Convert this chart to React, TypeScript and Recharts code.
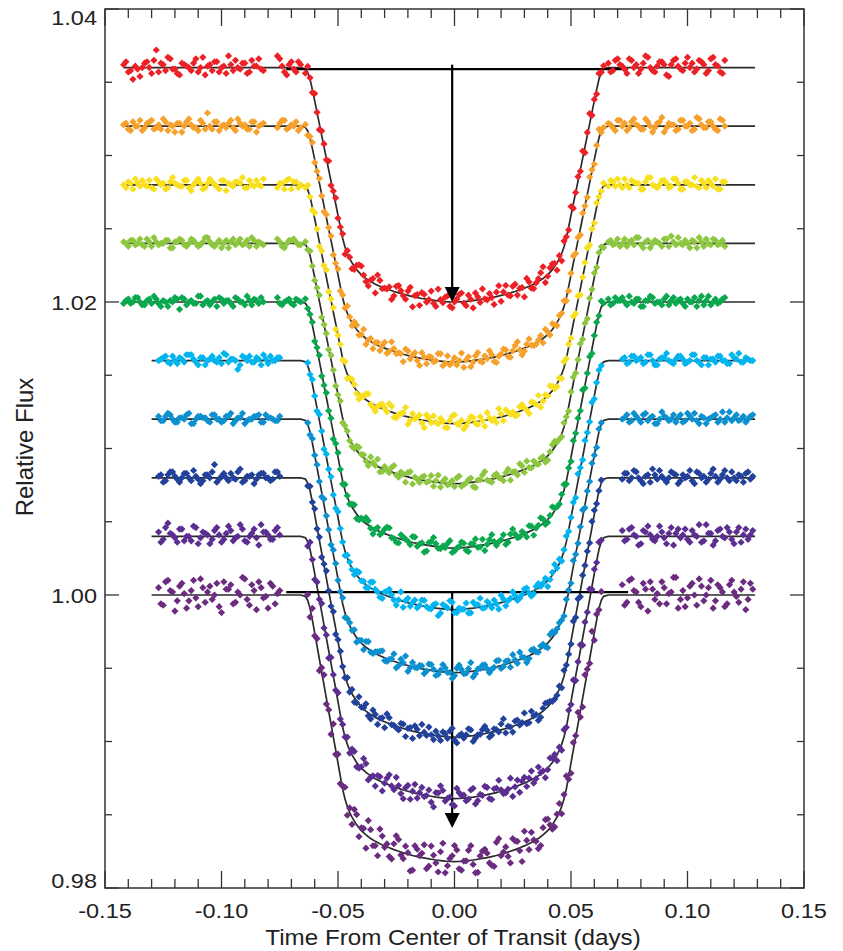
import React from 'react';
import { ComposedChart, Scatter, Line, XAxis, YAxis, ReferenceLine, ReferenceArea } from 'recharts';

// times in units of 0.001 day
const TOP_LEFT_T = [-142, -140, -138, -136, -134, -132, -130, -128, -126, -124, -122, -120, -118, -116, -114, -112, -110, -108, -106, -104, -102, -100, -98, -96, -94, -92, -90, -88, -86, -84, -82, -76, -74, -72, -70, -68, -66];
const BOTTOM_LEFT_T = [-127, -125, -123, -121, -119, -117, -115, -113, -111, -109, -107, -105, -103, -101, -99, -97, -95, -93, -91, -89, -87, -85, -83, -81, -79, -77, -75];
const TRANSIT_T = [-64, -63, -62, -61, -60, -59, -58, -57, -56, -55, -54, -53, -52, -51, -50, -49, -48, -47, -46, -45,
  -44, -42, -40, -38, -36, -34, -32, -30, -28, -26, -24, -22, -20, -18, -16, -14, -12, -10, -8, -6, -4, -2, 0,
  2, 4, 6, 8, 10, 12, 14, 16, 18, 20, 22, 24, 26, 28, 30, 32, 34, 36, 38, 40, 42, 44,
  45, 46, 47, 48, 49, 50, 51, 52, 53, 54, 55, 56, 57, 58, 59, 60, 61, 62, 63, 64];
const TOP_RIGHT_T = [66, 68, 70, 72, 74, 76, 78, 80, 82, 84, 86, 88, 90, 92, 94, 96, 98, 100, 102, 104, 106, 108, 110, 112, 114, 116];
const BOTTOM_RIGHT_T = [72, 74, 76, 78, 80, 82, 84, 86, 88, 90, 92, 94, 96, 98, 100, 102, 104, 106, 108, 110, 112, 114, 116, 118, 120, 122, 124, 126, 128];

// second set of exposures, between the first ones
const TOP_LEFT_T2 = [-141, -139, -137, -135, -133, -131, -129, -127, -125, -123, -121, -119, -117, -115, -113, -111, -109, -107, -105, -103, -101, -99, -97, -95, -93, -91, -89, -87, -85, -83, -75, -73, -71, -69, -67];
const BOTTOM_LEFT_T2 = [-126, -124, -122, -120, -118, -116, -114, -112, -110, -108, -106, -104, -102, -100, -98, -96, -94, -92, -90, -88, -86, -84, -82, -80, -78, -76];
const CENTER_T2 = [-43, -41, -39, -37, -35, -33, -31, -29, -27, -25, -23, -21, -19, -17, -15, -13, -11, -9, -7, -5, -3, -1,
  1, 3, 5, 7, 9, 11, 13, 15, 17, 19, 21, 23, 25, 27, 29, 31, 33, 35, 37, 39, 41, 43];
const TOP_RIGHT_T2 = [67, 69, 71, 73, 75, 77, 79, 81, 83, 85, 87, 89, 91, 93, 95, 97, 99, 101, 103, 105, 107, 109, 111, 113, 115];
const BOTTOM_RIGHT_T2 = [73, 75, 77, 79, 81, 83, 85, 87, 89, 91, 93, 95, 97, 99, 101, 103, 105, 107, 109, 111, 113, 115, 117, 119, 121, 123, 125, 127];

// shape of the fitted transit (fraction of full depth) against |time|, 0..64 then 66
const PROFILE_F = [1.0, 0.9999, 0.9995, 0.999, 0.998, 0.997, 0.996, 0.995, 0.994, 0.9925, 0.991, 0.9895, 0.988, 0.9865, 0.985, 0.983, 0.981, 0.979, 0.977, 0.9745,
  0.972, 0.9695, 0.967, 0.964, 0.961, 0.958, 0.955, 0.9515, 0.948, 0.9445, 0.941, 0.937, 0.933, 0.9285, 0.924, 0.9185, 0.913, 0.9065, 0.9, 0.892,
  0.884, 0.873, 0.862, 0.848, 0.833, 0.815, 0.793, 0.765, 0.728, 0.68, 0.63, 0.581, 0.533, 0.484, 0.436, 0.387, 0.338, 0.289, 0.24, 0.191,
  0.142, 0.094, 0.05, 0.02, 0.005, 0];

const COLORS = ['#ec2127', '#f5a12b', '#f8e01f', '#8dc63f', '#0aa84f', '#00b5ef', '#0c90d0', '#22419a', '#5c2e91', '#6b2c80'];
const BASELINES = [1.036, 1.032, 1.028, 1.024, 1.02, 1.016, 1.012, 1.008, 1.004, 1.0];
const DEPTHS = [0.016, 0.0161, 0.0163, 0.0164, 0.0168, 0.017, 0.0173, 0.0177, 0.0179, 0.0182];
const MODEL_START = [-142, -142, -142, -142, -142, -130, -130, -130, -130, -130];
const MODEL_END = 129;

// scatter about the fit, units of 1e-4
const RED_RES = [2, -3, -8, -1, 0, 4, -4, 12, 3, -2, 6, -1, -5, 2, 0, 3, -3, 7, 1, -2, 4, 0, -4, 2, 5, -1, 3, -3, 1, 6, -2, 8, 1, -5, 4, -3, 2,
  -3, 4, 1, -2, 5, 0, -4, 3, 2, -1, 6, -3, 1, 4, -2, 0, 3, -5, 2, 1,
  -4, 3, 6, -2, 1, -6, 4, 0, 2, -3, 5, -1, 3, -7, 2, 4, -2, 6, -4, 1, 3, -3, 0, 5, -1, 4, -5, 2, 7, -1, 0, 3, -4, 6, -2, 5, 1, -6, 3, -3, 2, 8, -1, 4, -5,
  2, -5, 4, 1, -2, 6, -3, 0, 3, -1, 5, -4, 2, 7, -2, 1, -3, 4, 0, 2,
  3, -2, 6, 1, -4, 5, 2, -1, 8, 0, -3, 4, 2, -6, 5, 1, -2, 7, 3, -1, 4, -4, 6, 2, -3, 5];
const ORANGE_RES = [1, -2, 3, 0, -3, 2, 4, -1, -2, 3, 1, -4, 2, 0, 5, -1, -3, 2, 9, -2, 3, 0, -1, 4, -3, 2, 1, -2, 3, 0, 2, -1, 4, -2, 1, 3, -1,
  2, -3, 1, 4, -2, 0, 3, -1, -4, 2, 1, 3, -2, 0, 4, -3, 2, -1, 5, 1,
  -2, 3, 0, -4, 2, 1, -3, 4, -1, 2, 0, -5, 3, 1, -2, 4, -3, 2, 0, 5, -1, -2, 3, 1, -4, 3, -1, 5, -2, 0, 2, -4, 1, 3, -3, 4, 0, -2, 5, -1, 1, -3, 2, 4, -2,
  2, 0, 4, -2, -3, 1, 5, -1, 2, -4, 3, 0, -2, 4, 1, -3, 2, 6, -1, 0,
  2, -1, 4, 0, -3, 3, 1, -2, 5, 0, -1, 3, -4, 2, 1, -2, 4, 0, -3, 6, 1, -1, 3, -2, 5, 0];
const YELLOW_RES = [0, 2, -3, 1, 3, -1, -2, 4, 0, -3, 2, 1, -1, 3, -2, 0, 4, -3, 1, 2, -1, 3, -4, 0, 2, 1, -2, 3, -1, 0, 4, -2, 1, 3, -3, 2, 0,
  -1, 3, 0, -2, 4, 1, -3, 2, 0, 5, -2, 1, 3, -4, 0, 2, -1, 4, -3, 1,
  3, -2, 0, 4, -1, -4, 2, 1, 5, -3, 0, 2, -5, 3, 1, -2, 4, -1, 0, 3, -3, 2, 6, -1, -4, 1, 3, -2, 0, 5, -1, -3, 2, 4, 0, -2, 3, 1, -4, 2, 5, -1, 0, 3, -2,
  1, -3, 4, 0, 2, -2, 5, -1, 3, -4, 0, 2, 4, -2, 1, -3, 3, 0, -1, 2,
  -1, 2, 4, -2, 0, 3, 1, -3, 2, 5, -1, 0, 3, -2, 4, 1, -3, 2, 0, -1, 3, -2, 1, 4, -3, 2];
const LGREEN_RES = [1, -2, 2, 0, -1, 3, -2, 1, 0, 2, -3, 1, 3, -1, 0, 2, -2, 1, 4, -1, 0, -3, 2, 1, -1, 3, 0, -2, 2, 1, -1, 3, -2, 0, 2, 1, -1,
  2, -1, 3, 0, -2, 1, 4, -3, 0, 2, -1, 3, 1, -2, 0, 4, -3, 1, 2, -1,
  -2, 3, 1, -1, 4, 0, -3, 2, -1, 5, -2, 1, 3, -4, 0, 2, -1, 4, 1, -3, 3, 0, -2, 5, -1, 2, -3, 1, 4, 0, -2, 3, -1, 2, -4, 1, 5, -2, 0, 3, -1, 2, -3, 4, 1,
  0, -2, 3, 1, -3, 2, 4, -1, 0, 3, -2, 1, -4, 2, 0, 3, -1, 2, 1, -2,
  1, -1, 3, 0, -2, 2, 4, -1, 1, -3, 2, 0, 3, -2, 1, 4, -1, 0, 2, -3, 1, 3, -1, 2, 0, -2];
const GREEN_RES = [-1, 2, 0, 3, -2, 1, -1, 2, -3, 0, 1, 3, -5, 2, 0, -1, 4, -2, 1, 0, -3, 2, 1, -1, 3, 0, -2, 1, 2, -1, 0, 3, -2, 1, -1, 2, 0,
  3, -1, 0, 2, -3, 1, 4, -2, 0, 3, -1, 2, -4, 1, 3, 0, -2, 4, 1, -1,
  2, -3, 1, 4, -1, 0, -2, 3, 5, -1, -3, 2, 0, 4, -2, 1, -4, 3, 2, -1, 0, 5, -2, 1, 3, -3, 2, -1, 4, 0, 6, -2, 1, -3, 3, 2, -1, 0, 4, -4, 1, 3, -2, 5, 0,
  -1, 2, 4, -2, 1, -3, 3, 0, 2, -1, 5, -2, 0, 3, -3, 1, 2, -1, 4, 0,
  2, -1, 1, 3, -2, 0, 2, -3, 1, 4, -1, 0, 2, -2, 3, 1, -1, 2, 0, -3, 4, 1, -2, 2, 0, 3];
const CYAN_RES = [0, 2, -1, 3, -2, 1, 4, 4, -1, 2, -3, 1, 0, 2, 5, -1, 1, -6, 3, 0, -1, 2, -3, 1, 3, 0, 2,
  2, -1, 3, 0, -2, 4, 1, -3, 2, 0, 3, -1, -2, 4, 1, 0, -3, 2, 1,
  -1, 3, 0, -2, 4, 1, -3, 2, 5, -1, 0, -4, 3, 1, -2, 4, 0, -1, 3, -3, 2, 6, -2, 1, 0, -3, 4, 2, -1, 3, -2, 0, 5, -3, 1, 2, -1, 4, 0, -2, 3, 1, -4, 2, 0,
  3, -2, 1, 4, -1, 0, 2, -3, 5, 1, -2, 3, 0, -1, 4, -2, 1, 2, 0,
  1, -2, 3, 0, 2, -1, 4, -3, 1, 2, 0, -2, 3, 1, -1, 4, 0, -3, 2, 1, -1, 3, 0, -2, 2, 5, -1, 1, 0];
const BLUE_RES = [2, -1, 4, 0, -2, 1, 3, -3, 0, 2, 1, -2, 3, 0, -1, 2, -3, 1, 4, -1, 0, 2, -2, 3, 1, -1, 2,
  1, -2, 3, 0, 2, -1, -3, 4, 1, 0, -2, 3, 2, -1, 0, 4, -3, 1, 2,
  0, -3, 2, 4, -1, 1, 3, -2, 0, 5, -2, 1, -4, 3, 0, 2, -1, 4, -3, 1, 3, 0, -2, 5, -1, 2, -4, 1, 3, 0, -1, 4, -2, 2, -3, 1, 5, 0, -2, 3, -1, 2, -3, 4, 1,
  2, 0, -2, 3, 1, -3, 4, 0, -1, 2, 5, -2, 1, -1, 3, 0, -3, 2, 1,
  0, 3, -1, 2, -2, 4, 1, -3, 0, 2, -1, 3, 1, -2, 4, 0, -1, 2, -3, 1, 3, 0, -2, 5, 1, -1, 2, 0, 3];
const DBLUE_RES = [1, -3, 2, 4, -1, 0, 3, -2, 1, -4, 2, 0, 9, -1, 3, -2, 0, 4, -3, 1, 2, -1, 3, 0, -2, 4, 1,
  -2, 3, 0, 4, -1, 2, -3, 1, 5, 0, -2, 3, -4, 1, 2, 0, -1, 4, -2,
  3, -1, 0, 5, -3, 2, 1, -4, 4, 0, -2, 3, 1, -5, 2, 6, -1, 0, 3, -3, 2, 4, -2, 1, -1, 5, -4, 0, 3, 2, -2, 1, 4, -3, 0, 3, -1, 6, -2, 1, -4, 2, 3, 0, -1,
  2, -3, 4, 1, 0, -2, 5, -1, 3, -4, 2, 0, 1, -2, 4, 3, -1, 0, 2,
  -1, 3, 0, 4, -2, 1, -3, 2, 5, -1, 0, 3, -4, 2, 1, -2, 4, 0, -3, 3, 1, -1, 5, -2, 0, 2, -3, 4, 1];
const PURPLE_RES = [3, -2, 9, 1, -4, 5, 0, -3, 6, -1, 2, -5, 4, 1, -2, 7, -3, 0, 5, -4, 2, -1, 8, 3, -2, 4, 1,
  -3, 5, 1, -4, 3, 0, 6, -2, 2, -5, 4, 1, -1, 6, -3, 2, 0, 5, -2,
  4, -3, 1, 6, -1, -5, 3, 0, 7, -2, 2, -6, 4, 1, -3, 5, 0, -4, 3, 8, -2, 1, -5, 4, 2, -1, 6, -3, 0, 5, -4, 3, 1, -2, 7, 0, -5, 4, 2, -3, 6, 1, -1, 3, -4,
  2, -4, 5, 0, 3, -2, 6, -3, 1, 4, -5, 2, 0, 7, -2, 3, -1, 5, 1,
  4, -2, 6, 0, -5, 3, 1, -3, 7, -1, 2, -6, 5, 1, -2, 4, 0, -4, 8, 2, -3, 5, -1, 3, -5, 6, 1, -2, 4];
const DPURPLE_RES = [5, -7, 10, 2, -4, 8, -9, 3, -2, 11, -5, 6, 0, -8, 9, 4, -6, 2, 12, -3, 7, -10, 5, -1, 8, -6, 3,
  4, -6, 8, -2, 5, -8, 3, 7, -4, 1, -7, 9, -3, 6, -5, 2, 8, -6, 3,
  -5, 7, 2, -9, 6, -3, 10, -1, -6, 4, 8, -4, 1, -10, 5, 3, -7, 9, -2, 6, -8, 2, 11, -5, 0, 7, -3, -9, 5, 3, -6, 9, -1, 4, -8, 6, -2, 10, -4, 1, -7, 5, 8, -3, 2,
  6, -5, 3, 9, -2, -7, 5, 1, 8, -4, -6, 7, 2, -3, 10, -5, 4, -1, 6,
  7, -5, 11, 2, -8, 4, 9, -3, -6, 5, 1, 12, -9, 3, -2, 8, -7, 6, 0, 10, -4, 5, -8, 7, 2, -5, 9, -3, 4];

const RED_RES2 = [4, -2, 1, -6, 3, 0, 5, -3, 2, 7, -1, -4, 3, 1, -2, 6, 0, -5, 2, 4, -3, 1, 8, -2, 0, 3, -4, 5, 1, -1, 6, -3, 2, -1, 4,
  -2, 5, 1, -4, 3, 7, -1, 0, -6, 4, 2, -3, 6, 1, -5, 3, 0, -2, 8, -1, 4, -4, 2, 6, -3, 1, 5, -2, 0, 3, -5, 7, 2, -1, 4, -3, 1, 6, -2, 0, 5, -4, 3, 2,
  -3, 5, 2, -1, 6, 0, -4, 3, 7, -2, 1, 4, -5, 2, 6, -1, 3, 0, -3, 5, 2, -2, 7, 1, -4];
const ORANGE_RES2 = [2, -3, 0, 4, -1, 3, -2, 1, 5, -3, 0, 2, -4, 3, 1, -1, 4, -2, 0, 3, -3, 1, 2, -1, 5, 0, -2, 3, -4, 1, 2, 4, -1, 0, -3,
  3, -2, 5, 0, -4, 2, 1, -3, 6, -1, 0, 4, -2, 3, -5, 1, 2, -1, 5, -3, 4, 0, -2, 6, 1, -4, 3, -1, 2, 5, -3, 0, 4, -2, 1, 6, -4, 2, 0, -1, 3, 5, -2, 1,
  1, -3, 4, 2, -1, 5, 0, -2, 3, -4, 2, 6, -1, 1, -3, 4, 0, 2, -2, 5, -1, 3, 0, -3, 4];
const YELLOW_RES2 = [-2, 1, 4, -1, 0, 3, -3, 2, 1, -2, 5, 0, -1, 3, -4, 2, 1, -2, 4, 0, -3, 3, 1, -1, 2, 5, -2, 0, 3, -1, 1, -3, 4, 2, -2,
  2, -4, 1, 5, -2, 0, 3, -1, 4, -3, 1, 6, -2, 0, 3, -5, 2, 4, -1, 1, -3, 5, 0, 2, -2, 4, -1, 3, -4, 1, 0, 6, -3, 2, 1, -2, 4, -1, 3, 0, -4, 2, 5, -1,
  3, -1, 0, 4, -2, 2, 1, -3, 5, 0, -2, 3, 1, -1, 4, -3, 2, 0, 5, -2, 1, 3, -1, -3, 2];
const LGREEN_RES2 = [0, 2, -1, 3, -2, 1, 4, -1, 0, 2, -3, 1, 2, -2, 3, 0, -1, 4, 1, -2, 2, 0, -3, 3, 1, -1, 2, 4, -2, 0, 1, -3, 2, 3, -1,
  -1, 4, 2, -3, 1, 5, -2, 0, 3, -1, 2, -4, 4, 1, -2, 3, 0, -3, 5, 1, -1, 2, 4, -2, 0, 3, -4, 1, 6, -1, 2, 0, -3, 4, 1, -2, 3, 5, -1, 0, 2, -3, 1, 4,
  2, 0, -2, 3, 1, -1, 4, -3, 2, 0, 1, -2, 3, 5, -1, 0, 2, -3, 1, 4, -2, 0, 3, -1, 2];
const GREEN_RES2 = [1, -1, 3, 0, -2, 2, 4, -1, 1, -3, 0, 2, 3, -2, 1, -1, 4, 0, -2, 2, 3, -1, 1, -3, 2, 0, 4, -2, 1, 3, -1, 0, 2, -2, 1,
  4, -2, 1, 3, -4, 2, 0, 5, -1, -3, 3, 1, -2, 4, 0, -5, 2, 6, -1, 1, 3, -3, 0, 4, -2, 2, 5, -1, -4, 3, 1, 0, 4, -2, 6, -1, 2, -3, 3, 0, 5, -2, 1, 2,
  -2, 3, 1, 0, 4, -1, 2, -3, 1, 3, 0, -2, 4, 1, -1, 2, -3, 0, 3, 1, -2, 4, 0, -1, 2];
const CYAN_RES2 = [1, 3, -2, 0, 2, -1, 4, 1, -3, 2, 0, 3, -1, -2, 4, 1, 0, -3, 2, 3, -1, 1, 4, -2, 0, 2,
  -2, 4, 1, -1, 5, 0, -3, 3, 2, -4, 6, 1, -2, 3, 0, 4, -1, 2, -5, 3, 1, 5, -2, 0, 4, -3, 2, 6, -1, 1, 3, -4, 2, 0, 5, -2, 1, 4, -3, 2, 0, 3, -1, 5,
  2, -1, 3, 1, -2, 4, 0, -3, 2, 5, -1, 1, 3, -2, 0, 4, -1, 2, -3, 1, 3, 0, -2, 4, 1, -1, 2, 0];
const BLUE_RES2 = [-1, 2, 3, -2, 1, 0, 4, -3, 2, 1, -1, 3, 0, -2, 2, 4, -1, 1, -3, 0, 2, 3, -2, 1, 0, -1,
  3, 0, -3, 5, -1, 2, 4, -2, 1, -4, 3, 6, -1, 0, 2, -3, 4, 1, -2, 5, 0, -4, 3, 2, -1, 6, -2, 1, 3, -3, 0, 4, -1, 2, 5, -2, 1, -4, 3, 0, 2, -1, 4, 1,
  1, -2, 4, 0, 3, -1, 2, -3, 5, 1, 0, -2, 3, -1, 2, 4, -3, 1, 0, 2, -2, 5, 1, -1, 3, 0, -2, 2];
const DBLUE_RES2 = [2, -2, 4, 1, -3, 3, 0, 5, -1, -2, 2, 4, -3, 1, 0, 3, -1, 6, -2, 1, -4, 2, 3, 0, -1, 4,
  -3, 5, 1, -2, 4, -4, 2, 6, 0, -1, 3, -5, 2, 4, -2, 1, 5, -3, 0, 3, -1, 6, -4, 2, 1, 4, -2, 0, 5, -3, 2, -1, 7, 1, -4, 3, 0, -2, 5, 1, -3, 4, 2, -1,
  3, -2, 5, 0, -4, 2, 6, -1, 1, -3, 4, 2, -2, 0, 5, -4, 3, 1, -1, 6, -3, 2, 0, 4, -2, 1, 3, -1];
const PURPLE_RES2 = [-4, 6, 2, -1, 5, -3, 0, 7, -5, 3, 1, -2, 6, -4, 2, 4, -1, 8, -3, 0, 5, -6, 3, 1, -2, 6,
  5, -2, 8, -4, 1, 3, -6, 4, 0, 7, -3, 2, -5, 6, 1, -1, 4, -7, 3, 5, 0, -4, 7, 2, -2, 5, -5, 1, 6, -3, 3, 8, -2, 0, -6, 4, 2, -3, 6, -1, 1, -5, 5, 3,
  -3, 5, 1, -6, 4, 7, -2, 0, 3, -5, 6, 2, -1, 5, -4, 1, 8, -3, 2, -6, 4, 0, 6, -2, 3, -4, 5, 1];
const DPURPLE_RES2 = [-6, 9, 3, -11, 6, 1, -4, 10, -8, 5, 2, -3, 8, -12, 4, 7, -5, 0, 11, -7, 3, 9, -2, -9, 6, 1,
  8, -6, 3, 11, -4, -9, 6, 2, -7, 10, -2, 5, -11, 7, 1, 9, -5, 3, -8, 12, -3, 4, 8, -6, 0, 10, -9, 2, 6, -4, -7, 11, 1, -3, 8, 5, -10, 3, 7, -1, -6, 9, 2, -4,
  -7, 10, 3, -5, 8, -11, 4, 1, 9, -6, 2, 12, -3, -8, 6, 0, 11, -4, 5, -9, 7, 2, -6, 10, -1, 4, -10, 8];

const RESIDUALS = [RED_RES, ORANGE_RES, YELLOW_RES, LGREEN_RES, GREEN_RES, CYAN_RES, BLUE_RES, DBLUE_RES, PURPLE_RES, DPURPLE_RES];
const RESIDUALS2 = [RED_RES2, ORANGE_RES2, YELLOW_RES2, LGREEN_RES2, GREEN_RES2, CYAN_RES2, BLUE_RES2, DBLUE_RES2, PURPLE_RES2, DPURPLE_RES2];

const X_TICKS = [-0.15, -0.14, -0.13, -0.12, -0.11, -0.1, -0.09, -0.08, -0.07, -0.06, -0.05, -0.04, -0.03, -0.02, -0.01, 0,
  0.01, 0.02, 0.03, 0.04, 0.05, 0.06, 0.07, 0.08, 0.09, 0.1, 0.11, 0.12, 0.13, 0.14, 0.15];
const Y_TICKS = [0.98, 0.985, 0.99, 0.995, 1.0, 1.005, 1.01, 1.015, 1.02, 1.025, 1.03, 1.035, 1.04];

// annotation arrows
const ARROW_T = -0.001;
const ARROW_FROM = [1.0362, 1.0002];
const ARROW_TIP = [1.02, 0.9841];
const BAR_Y = [1.0359, 1.0002];
const BAR_X = [-0.0722, 0.0745];

const FONT = '"Liberation Sans", Arial, Helvetica, sans-serif';
const PLOT_TOP = 9;
const PLOT_BOTTOM = 888;
const PLOT_LEFT = 105;
const PLOT_RIGHT = 804;
const AXIS_COLOR = '#333';

const profileAt = (ms: number) => {
  const a = Math.abs(ms);
  return a <= 64 ? PROFILE_F[a] : 0;
};

const series = COLORS.map((color, k) => {
  const top = k < 5;
  const times = top
    ? [...TOP_LEFT_T, ...TRANSIT_T, ...TOP_RIGHT_T]
    : [...BOTTOM_LEFT_T, ...TRANSIT_T.slice(1, -1), ...BOTTOM_RIGHT_T];
  const times2 = top
    ? [...TOP_LEFT_T2, ...CENTER_T2, ...TOP_RIGHT_T2]
    : [...BOTTOM_LEFT_T2, ...CENTER_T2, ...BOTTOM_RIGHT_T2];
  const toPoint = (res: number[]) => (ms: number, i: number) => ({
    x: ms / 1000,
    y: BASELINES[k] - DEPTHS[k] * profileAt(ms) + (res[i] ?? 0) * 1e-4,
  });
  const points = [...times.map(toPoint(RESIDUALS[k])), ...times2.map(toPoint(RESIDUALS2[k]))];
  const modelT = [MODEL_START[k], -66, ...TRANSIT_T, 66, MODEL_END];
  const model = modelT.map((ms) => ({ x: ms / 1000, y: BASELINES[k] - DEPTHS[k] * profileAt(ms) }));
  return { color, points, model };
});

const tips = ARROW_TIP.map((y) => ({ x: ARROW_T, y }));

const Diamond = (p: any) => {
  const { cx, cy, fill } = p;
  const r = 3.6;
  return <path d={`M${cx},${cy - r}L${cx + r},${cy}L${cx},${cy + r}L${cx - r},${cy}Z`} fill={fill} />;
};

const ArrowHead = (p: any) => {
  const { cx, cy } = p;
  return <path d={`M${cx - 7.5},${cy - 15}L${cx + 7.5},${cy - 15}L${cx},${cy}Z`} fill="#000" />;
};

const XTick = (props: any) => {
  const { x, payload } = props;
  const v = payload.value;
  const major = Math.round(v * 100) % 5 === 0;
  const len = major ? 17 : 9;
  return (
    <g>
      <line x1={x} x2={x} y1={PLOT_BOTTOM} y2={PLOT_BOTTOM - len} stroke={AXIS_COLOR} strokeWidth={1.3} />
      <line x1={x} x2={x} y1={PLOT_TOP} y2={PLOT_TOP + len} stroke={AXIS_COLOR} strokeWidth={1.3} />
      {major && (
        <text transform={`translate(${x},918) scale(1.12,1)`} textAnchor="middle" fontSize={21} fontFamily={FONT} fill="#222">
          {v.toFixed(2)}
        </text>
      )}
    </g>
  );
};

const YTick = (props: any) => {
  const { y, payload } = props;
  const v = payload.value;
  const major = Math.round(v * 1000) % 20 === 0;
  const len = major ? 14 : 7;
  let ty = y + 7.5;
  if (y < PLOT_TOP + 8) ty = 24.5;
  if (y > PLOT_BOTTOM - 8) ty = 887.5;
  return (
    <g>
      <line x1={PLOT_LEFT} x2={PLOT_LEFT + len} y1={y} y2={y} stroke={AXIS_COLOR} strokeWidth={1.3} />
      <line x1={PLOT_RIGHT} x2={PLOT_RIGHT - len} y1={y} y2={y} stroke={AXIS_COLOR} strokeWidth={1.3} />
      {major && (
        <text transform={`translate(97,${ty}) scale(1.12,1)`} textAnchor="end" fontSize={21} fontFamily={FONT} fill="#222">
          {v.toFixed(2)}
        </text>
      )}
    </g>
  );
};

const App = () => {
  return (
    <div style={{ position: 'absolute', left: 0, top: 0, width: 843, height: 951, background: '#fff' }}>
      <ComposedChart width={843} height={951} margin={{ top: PLOT_TOP, right: 843 - PLOT_RIGHT, bottom: 0, left: 0 }}>
        <XAxis
          type="number"
          dataKey="x"
          domain={[-0.15, 0.15]}
          ticks={X_TICKS}
          interval={0}
          height={951 - PLOT_BOTTOM}
          axisLine={false}
          tickLine={false}
          tick={<XTick />}
          allowDataOverflow
        />
        <YAxis
          type="number"
          dataKey="y"
          domain={[0.98, 1.04]}
          ticks={Y_TICKS}
          interval={0}
          width={PLOT_LEFT}
          axisLine={false}
          tickLine={false}
          tick={<YTick />}
          allowDataOverflow
        />
        <ReferenceArea x1={-0.15} x2={0.15} y1={0.98} y2={1.04} fill="none" stroke={AXIS_COLOR} strokeWidth={1.5} />
        {series.map((s, k) => (
          <Line
            key={`m${k}`}
            data={s.model}
            dataKey="y"
            type="linear"
            stroke="#2b2b2b"
            strokeWidth={1.7}
            dot={false}
            activeDot={false}
            isAnimationActive={false}
          />
        ))}
        {series.map((s, k) => (
          <Scatter key={`p${k}`} data={s.points} fill={s.color} shape={Diamond} isAnimationActive={false} />
        ))}
        {BAR_Y.map((y, i) => (
          <ReferenceLine
            key={`b${i}`}
            segment={[{ x: BAR_X[0], y }, { x: BAR_X[1], y }]}
            stroke="#000"
            strokeWidth={2.2}
          />
        ))}
        {ARROW_FROM.map((y, i) => (
          <ReferenceLine
            key={`a${i}`}
            segment={[{ x: ARROW_T, y }, { x: ARROW_T, y: ARROW_TIP[i] + 0.0008 }]}
            stroke="#000"
            strokeWidth={2.2}
          />
        ))}
        <Scatter data={tips} fill="#000" shape={ArrowHead} isAnimationActive={false} />
      </ComposedChart>
      <svg width={843} height={951} style={{ position: 'absolute', left: 0, top: 0, pointerEvents: 'none' }}>
        <text transform="translate(453,945) scale(1.1,1)" textAnchor="middle" fontSize={22} fontFamily={FONT} fill="#222">
          Time From Center of Transit (days)
        </text>
        <text transform="translate(33,447) rotate(-90)" textAnchor="middle" fontSize={24} fontFamily={FONT} fill="#222">
          Relative Flux
        </text>
      </svg>
    </div>
  );
};

export default App;
